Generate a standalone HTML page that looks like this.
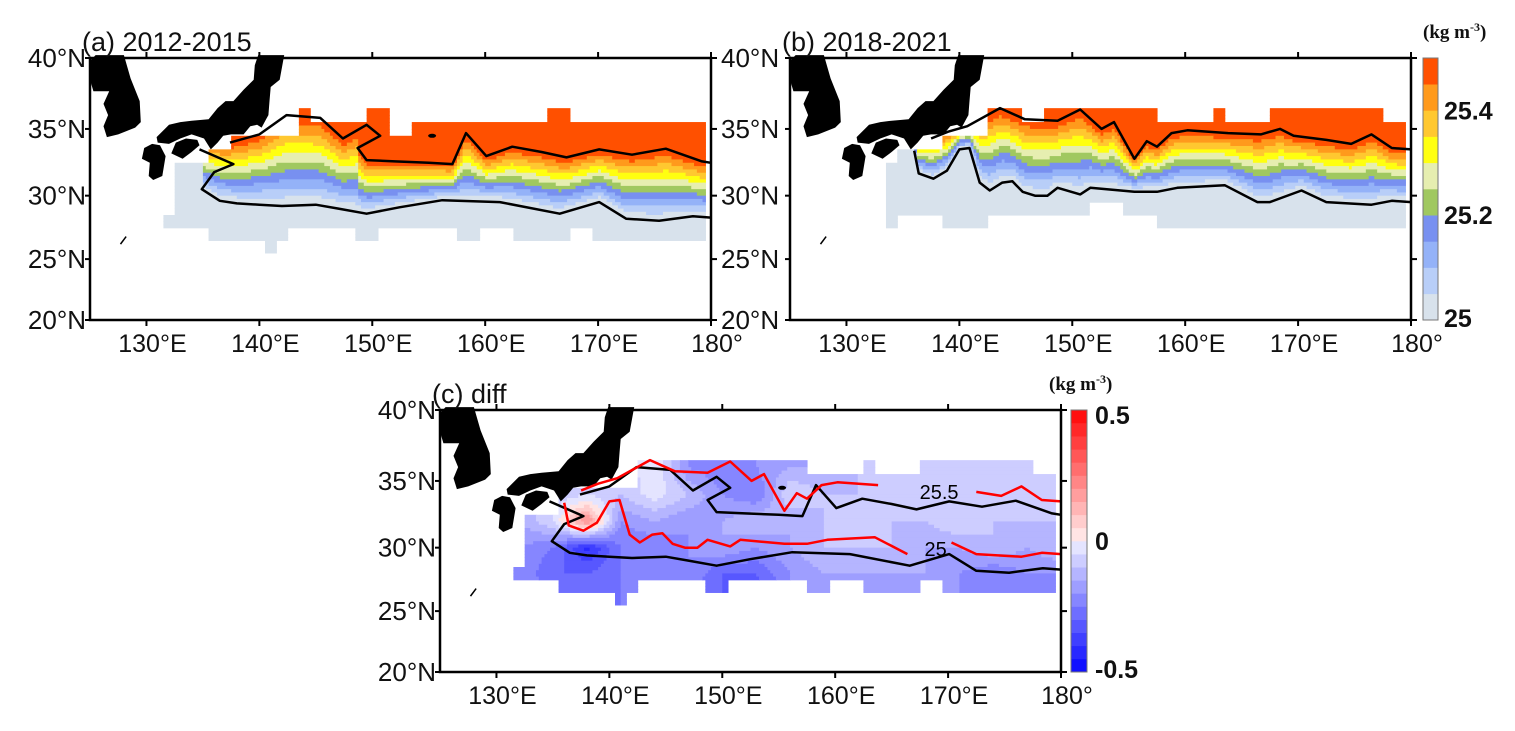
<!DOCTYPE html>
<html><head><meta charset="utf-8"><style>
body{margin:0;background:#fff;}
svg{display:block;font-family:"Liberation Sans",Arial,sans-serif;}
</style></head><body>
<svg id="fig" width="1515" height="731" viewBox="0 0 1515 731" xmlns="http://www.w3.org/2000/svg"></svg>
<script>
// ---------- data ----------
const lonTicks=[130,140,150,160,170,180];
const lonTickLabels=["130°E","140°E","150°E","160°E","170°E","180°"];
const latTicks=[20,25,30,35,40];
const latTickLabels=["20°N","25°N","30°N","35°N","40°N"];
const densLevels=[25,25.05,25.1,25.15,25.2,25.25,25.3,25.35,25.4,25.45,25.5];
const densColors=['#d8e2ec','#b8cef8','#94b2f8','#7890f0','#a0c860','#e6eeb0','#ffff10','#ffc830','#ff9a1c','#ff5000'];
const densCbLabels=["25","25.2","25.4"];
const densCbValues=[25,25.2,25.4];
const diffCbLabels=["-0.5","0","0.5"];
const diffCbValues=[-0.5,0,0.5];
// mask columns (1° wide, centered)
const maskLons=[132,133,134,135,136,137,138,139,140,141,142,143,144,145,146,147,148,149,150,151,152,153,154,155,156,157,158,159,160,161,162,163,164,165,166,167,168,169,170,171,172,173,174,175,176,177,178,179];
const maskTopA=[28.5,32.5,32.5,32.5,33.5,33.5,34.5,34.5,34.5,34.5,34.5,34.5,36.5,35.5,35.5,35.5,35.5,35.5,36.5,36.5,34.5,34.5,35.5,35.5,35.5,35.5,35.5,35.5,35.5,35.5,35.5,35.5,35.5,35.5,36.5,36.5,35.5,35.5,35.5,35.5,35.5,35.5,35.5,35.5,35.5,35.5,35.5,35.5];
const maskBotA=[27.5,27.5,27.5,27.5,26.5,26.5,26.5,26.5,26.5,25.5,26.5,27.5,27.5,27.5,27.5,27.5,27.5,26.5,26.5,27.5,27.5,27.5,27.5,27.5,27.5,27.5,26.5,26.5,27.5,27.5,27.5,26.5,26.5,26.5,26.5,26.5,27.5,27.5,26.5,26.5,26.5,26.5,26.5,26.5,26.5,26.5,26.5,26.5];
const maskTopB=[null,null,32.5,33.5,33.5,33.5,33.5,34.5,34.5,34.5,34.5,36.5,36.5,36.5,35.5,35.5,36.5,36.5,36.5,36.5,36.5,36.5,36.5,36.5,36.5,36.5,35.5,35.5,35.5,35.5,35.5,36.5,35.5,35.5,35.5,35.5,36.5,36.5,36.5,36.5,36.5,36.5,36.5,36.5,36.5,36.5,35.5,35.5];
const maskBotB=[null,null,27.5,28.5,28.5,28.5,28.5,27.5,27.5,27.5,27.5,28.5,28.5,28.5,28.5,28.5,28.5,28.5,28.5,28.5,29.5,29.5,29.5,28.5,28.5,28.5,27.5,27.5,27.5,27.5,27.5,27.5,27.5,27.5,27.5,27.5,27.5,27.5,27.5,27.5,27.5,27.5,27.5,27.5,27.5,27.5,27.5,27.5];
const maskTopC=[28.5,32.5,32.5,32.5,34.5,34.5,34.5,34.5,34.5,34.5,34.5,36.5,36.5,36.5,36.5,36.5,36.5,36.5,36.5,36.5,36.5,36.5,36.5,36.5,36.5,36.5,35.5,35.5,35.5,35.5,35.5,36.5,35.5,35.5,35.5,35.5,36.5,36.5,36.5,36.5,36.5,36.5,36.5,36.5,36.5,36.5,35.5,35.5];
const maskBotC=[27.5,27.5,27.5,27.5,26.5,26.5,26.5,26.5,26.5,25.5,26.5,27.5,27.5,27.5,27.5,27.5,27.5,26.5,26.5,27.5,27.5,27.5,27.5,27.5,27.5,27.5,26.5,26.5,27.5,27.5,27.5,26.5,26.5,26.5,26.5,26.5,27.5,27.5,26.5,26.5,26.5,26.5,26.5,26.5,26.5,26.5,26.5,26.5];
// contours: 25.0 (south) and 25.5 (north)
const southLonA=[134.7,137.7,136,134.9,136.5,138,140,142,145,147,149.5,152.4,156.2,161.3,166.6,170.1,172.5,175.4,178.4,180];
const southLatA=[33.5,32.4,31.8,30.5,29.6,29.4,29.3,29.2,29.3,29.0,28.6,29.1,29.65,29.5,28.6,29.5,28.2,28.05,28.4,28.3];
const northLonA=[137.4,140,142.4,145.4,147.4,149.5,150.7,148.7,149.5,152,155,157.1,158.3,160.1,162.4,165,167.2,170.1,173,176,179.2,180];
const northLatA=[34.0,34.6,36.0,35.8,34.3,35.3,34.5,33.6,32.7,32.6,32.5,32.4,34.7,33.0,33.7,33.3,32.9,33.5,33.1,33.55,32.6,32.5];
const southLonB=[136.0,136.4,137.7,138.9,140.0,140.9,141.8,142.7,143.8,144.7,145.6,146.7,147.8,148.7,150.7,151.6,155.5,157.5,159.3,163.5,166.4,167.5,170.3,172.5,176.5,178.3,180];
const southLatB=[33.4,31.7,31.3,31.9,33.5,33.6,31.0,30.4,31.0,31.1,30.3,30.0,30.0,30.6,30.1,30.6,30.3,30.3,30.6,30.8,29.5,29.5,30.4,29.5,29.3,29.6,29.5];
const northLonB=[137.5,139,140.7,143.6,145.8,148.7,150.7,152.6,153.7,155.5,156.6,157.5,158.8,160.2,163.8,166.7,168.4,169.6,172.5,174.7,176.5,178.3,180];
const northLatB=[34.3,34.8,35.2,36.5,35.7,35.6,36.4,35.0,35.5,32.8,34.1,33.7,34.7,34.9,34.7,34.6,35.0,34.5,34.2,33.9,34.6,33.6,33.5];
// difference field (b - a) on coarse grid
const diffLons=[132,135,138,141,144,147,150,153,156,159,162,165,168,171,174,177,180];
const diffLats=[26,28,30,32,34,36];
const diff26=[-0.2,-0.25,-0.3,-0.25,-0.2,-0.25,-0.3,-0.35,-0.2,-0.15,-0.2,-0.15,-0.2,-0.2,-0.2,-0.2,-0.2];
const diff28=[-0.2,-0.3,-0.3,-0.25,-0.2,-0.2,-0.3,-0.3,-0.2,-0.15,-0.15,-0.15,-0.15,-0.2,-0.25,-0.2,-0.2];
const diff30=[-0.2,-0.25,-0.42,-0.25,-0.25,-0.2,-0.15,-0.2,-0.15,-0.1,-0.1,-0.1,-0.15,-0.15,-0.1,-0.15,-0.1];
const diff32=[-0.15,-0.05,0.22,-0.2,-0.15,-0.2,-0.15,-0.1,-0.15,-0.1,-0.1,-0.1,-0.1,-0.05,-0.1,-0.1,-0.1];
const diff34=[-0.1,-0.1,-0.05,-0.1,-0.02,-0.1,-0.2,-0.25,-0.05,-0.1,-0.1,-0.1,-0.1,-0.05,-0.1,-0.1,-0.1];
const diff36=[-0.1,-0.1,-0.1,-0.1,0.0,-0.2,-0.25,-0.2,-0.15,-0.15,-0.1,-0.1,-0.1,-0.1,-0.1,-0.1,-0.1];
const diffRows=[diff26,diff28,diff30,diff32,diff34,diff36];
// land outlines
const korea=[[125,39.8],[125.5,40.2],[128,40.2],[128.6,38.6],[129.4,37],[129.5,35.5],[129,35.1],[127.5,34.6],[126.5,34.4],[126.2,35.2],[126.6,36],[126.2,36.8],[126.7,37.7],[125.3,37.7],[125,38.5]];
const honshu=[[139.9,40.2],[142.2,40.2],[141.8,38.5],[141,38],[140.9,37],[140.8,36],[140.6,35.7],[140.2,35.1],[139.8,35.3],[139.2,35.2],[138.6,34.6],[137.5,34.6],[136.8,34.5],[136.3,34.0],[135.7,33.5],[135.1,34.3],[134,34.6],[133,34.3],[132,33.9],[131,34.0],[130.9,34.4],[132,35.3],[133,35.5],[134,35.6],[135.5,35.7],[136.3,36.5],[137,37],[137.7,37.0],[138.6,37.8],[139.5,38.5],[139.6,39.5]];
const kyushu=[[129.8,33.6],[130.5,33.9],[131.2,33.8],[131.7,33.0],[131.4,31.5],[130.6,31.2],[130.2,31.5],[130.3,32.5],[129.6,32.8]];
const shikoku=[[132.2,33.2],[132.6,34.0],[133.5,34.3],[134.5,34.2],[134.7,33.8],[134.0,33.3],[133.2,32.8]];

// ---------- drawing ----------
const NS='http://www.w3.org/2000/svg';
const svg=document.getElementById('fig');
const W=621,H=262;
const FS=25;
const M=l=>Math.log(Math.tan(Math.PI/4+l*Math.PI/360));
function px(p,lon){return p.x0+(lon-125)/55*W;}
function py(p,lat){return p.y0+(M(40)-M(lat))/(M(40)-M(20))*H;}
function el(tag,attrs,parent){const e=document.createElementNS(NS,tag);for(const k in attrs)e.setAttribute(k,attrs[k]);(parent||svg).appendChild(e);return e;}
function crossLat(lons,lats,lon){let r=null;for(let i=0;i<lons.length-1;i++){const a=lons[i],b=lons[i+1];if((lon>=Math.min(a,b))&&(lon<=Math.max(a,b))&&a!==b){r=lats[i]+(lats[i+1]-lats[i])*(lon-a)/(b-a);}}if(r===null)r=lon<lons[0]?lats[0]:lats[lats.length-1];return r;}
function diffAt(lon,lat){let i=Math.max(0,Math.min(diffLons.length-2,Math.floor((lon-diffLons[0])/3)));let j=Math.max(0,Math.min(diffLats.length-2,Math.floor((lat-diffLats[0])/2)));const tx=Math.max(0,Math.min(1,(lon-diffLons[i])/3)),ty=Math.max(0,Math.min(1,(lat-diffLats[j])/2));const a=diffRows[j][i],b=diffRows[j][i+1],c=diffRows[j+1][i],d=diffRows[j+1][i+1];return (a*(1-tx)+b*tx)*(1-ty)+(c*(1-tx)+d*tx)*ty;}
function diffColor(idx){if(idx<10){const f=(10-idx)/10;const v=Math.round(252-f*236);return `rgb(${v},${v},255)`;}else{const f=(idx-9)/10;const v=Math.round(252-f*236);return `rgb(255,${v},${v})`;}}

const panels=[
 {id:'a',x0:90,y0:58,title:'(a) 2012-2015',leftLabels:true,rightLabels:true,top:maskTopA,bot:maskBotA,sLon:southLonA,sLat:southLatA,nLon:northLonA,nLat:northLatA,type:'dens'},
 {id:'b',x0:790,y0:58,title:'(b) 2018-2021',leftLabels:false,rightLabels:false,top:maskTopB,bot:maskBotB,sLon:southLonB,sLat:southLatB,nLon:northLonB,nLat:northLatB,type:'dens'},
 {id:'c',x0:440,y0:410,title:'(c) diff',leftLabels:true,rightLabels:false,top:maskTopC,bot:maskBotC,type:'diff'}
];
const step=0.25;
panels.forEach(p=>{
 const g=el('g',{});
 
 
 const field=el('g',{},g);
 
 
 for(let lat=36.5-step;lat>=25.5-1e-6;lat-=step){
  let run=null;
  const flush=()=>{if(run){const r=el('rect',{x:px(p,run.l0).toFixed(2),y:py(p,lat+step).toFixed(2),width:(px(p,run.l1)-px(p,run.l0)+0.6).toFixed(2),height:(py(p,lat)-py(p,lat+step)+0.6).toFixed(2),fill:run.c},field);run=null;}};
  for(let lon=131.5;lon<179.5-1e-6;lon+=step){
   const ci=Math.floor(lon+0.5)-132;const lc=lon+step/2,la=lat+step/2;
   let c=null;
   if(ci>=0&&ci<maskLons.length&&p.top[ci]!==null&&la<p.top[ci]&&la>p.bot[ci]){
    if(p.type==='dens'){
     const s=crossLat(p.sLon,p.sLat,lc),n=crossLat(p.nLon,p.nLat,lc);
     let v=25+0.5*(la-s)/Math.max(0.3,(n-s));
     let k=Math.floor((v-25)/0.05);k=Math.max(0,Math.min(9,k));c=densColors[k];
    }else{
     let v=diffAt(lc,la);let k=Math.floor((v+0.5)/0.05);k=Math.max(0,Math.min(19,k));c=diffColor(k);
    }
   }
   if(run&&run.c===c){run.l1=lon+step;}else{flush();if(c)run={l0:lon,l1:lon+step,c:c};}
  }
  flush();
 }
 // land
 [['korea',korea],['honshu',honshu],['kyushu',kyushu],['shikoku',shikoku]].forEach(([nm,poly])=>{
  const e=el('polygon',{points:poly.map(q=>px(p,q[0]).toFixed(1)+','+py(p,q[1]).toFixed(1)).join(' '),fill:'#000'},g);
  
  
 });
 const ok=el('line',{x1:px(p,127.7),y1:py(p,26.2),x2:px(p,128.2),y2:py(p,26.8),stroke:'#000','stroke-width':1.5},g);
 
 
 // contours
 function contour(lons,lats,color,name,skip){
  let segs=[[]];
  for(let i=0;i<lons.length;i++){if(skip&&lons[i]>skip[0]&&lons[i]<skip[1]){if(segs[segs.length-1].length)segs.push([]);continue;}segs[segs.length-1].push(px(p,lons[i]).toFixed(1)+','+py(p,lats[i]).toFixed(1));}
  segs.forEach(s=>{if(s.length<2)return;const e=el('polyline',{points:s.join(' '),fill:'none',stroke:color,'stroke-width':2.5,'stroke-linejoin':'round'},g);});
 }
 if(p.type==='dens'){
  contour(p.sLon,p.sLat,'#000','contour-25-'+p.id);
  contour(p.nLon,p.nLat,'#000','contour-25.5-'+p.id);
  if(p.id==='a'){const e=el('ellipse',{cx:px(p,155.3),cy:py(p,34.5),rx:4,ry:2,fill:'#000'},g);}
 }else{
  contour(southLonA,southLatA,'#000','contour-25-2012');
  contour(northLonA,northLatA,'#000','contour-25.5-2012');
  const e0=el('ellipse',{cx:px(p,155.3),cy:py(p,34.5),rx:4,ry:2,fill:'#000'},g);
  contour(southLonB,southLatB,'#ff0000','contour-25-2018',[167.3,170.3]);
  contour(northLonB,northLatB,'#ff0000','contour-25.5-2018',[166.6,171.8]);
  const t1=el('text',{x:px(p,169.2),y:py(p,34.2)+7,'font-size':20,'text-anchor':'middle',fill:'#000'},g);t1.textContent='25.5';
  const t2=el('text',{x:px(p,168.9),y:py(p,29.9)+7,'font-size':20,'text-anchor':'middle',fill:'#000'},g);t2.textContent='25';
 }
 // axes box
 const box=el('rect',{x:p.x0,y:p.y0,width:W,height:H,fill:'none',stroke:'#000','stroke-width':2.5},g);
 
 
 lonTicks.forEach((lon,i)=>{
  const x=px(p,lon);
  el('line',{x1:x,y1:p.y0,x2:x,y2:p.y0-6,stroke:'#000','stroke-width':2},g);
  el('line',{x1:x,y1:p.y0+H,x2:x,y2:p.y0+H+6,stroke:'#000','stroke-width':2},g);
  const t=el('text',{x:x+6,y:p.y0+H+32,'font-size':FS,'text-anchor':'middle',fill:'#111'},g);
  t.textContent=lonTickLabels[i];
  
  
 });
 latTicks.forEach((lat,i)=>{
  const y=py(p,lat);
  el('line',{x1:p.x0,y1:y,x2:p.x0-5,y2:y,stroke:'#000','stroke-width':2},g);
  el('line',{x1:p.x0+W,y1:y,x2:p.x0+W+6,y2:y,stroke:'#000','stroke-width':2},g);
  if(p.leftLabels){const t=el('text',{x:p.x0-4,y:y+9,'font-size':FS+1,'text-anchor':'end',fill:'#111'},g);t.textContent=latTickLabels[i];}
  if(p.rightLabels){const t=el('text',{x:p.x0+W+10,y:y+9,'font-size':FS+1,'text-anchor':'start',fill:'#111'},g);t.textContent=latTickLabels[i];}
 });
 const tt=el('text',{x:p.x0-8,y:p.y0-7,'font-size':27,fill:'#111'},g);
 tt.textContent=p.title;
 
 
});

// density colorbar
const cb=el('g',{});


const cbx=1423,cby0=58,cbh=262,cbw=15;
const cbY=v=>cby0+cbh-(v-25)/0.5*cbh;
densColors.forEach((c,i)=>{const r=el('rect',{x:cbx,y:cbY(densLevels[i+1]),width:cbw,height:cbY(densLevels[i])-cbY(densLevels[i+1])+0.3,fill:c},cb);});
el('rect',{x:cbx,y:cby0,width:cbw,height:cbh,fill:'none',stroke:'#777','stroke-width':1},cb);
densCbValues.forEach((v,i)=>{const t=el('text',{x:1444,y:cbY(v)+(i===0?7:9),'font-size':25,'font-weight':'bold',fill:'#111'},cb);t.textContent=densCbLabels[i];});
const u1=el('text',{x:1423,y:38,'font-size':19,'font-weight':'bold','font-family':'Liberation Serif,serif',fill:'#111'},cb);
u1.innerHTML='(kg m<tspan dy="-7" font-size="12">-3</tspan><tspan dy="7">)</tspan>';



// diff colorbar
const cb2=el('g',{});


const c2x=1071,c2y0=410,c2h=262,c2w=16;
const c2Y=v=>c2y0+c2h-(v+0.5)/1.0*c2h;
for(let k=0;k<20;k++){const v0=-0.5+k*0.05;const r=el('rect',{x:c2x,y:c2Y(v0+0.05),width:c2w,height:c2Y(v0)-c2Y(v0+0.05)+0.3,fill:diffColor(k)},cb2);}
el('rect',{x:c2x,y:c2y0,width:c2w,height:c2h,fill:'none',stroke:'#777','stroke-width':1},cb2);
diffCbValues.forEach((v,i)=>{const t=el('text',{x:1095,y:c2Y(v)+(i===0?6:(i===2?14:9)),'font-size':25,'font-weight':'bold',fill:'#111'},cb2);t.textContent=diffCbLabels[i];});
const u2=el('text',{x:1049,y:390,'font-size':19,'font-weight':'bold','font-family':'Liberation Serif,serif',fill:'#111'},cb2);
u2.innerHTML='(kg m<tspan dy="-7" font-size="12">-3</tspan><tspan dy="7">)</tspan>';


</script>
</body></html>
